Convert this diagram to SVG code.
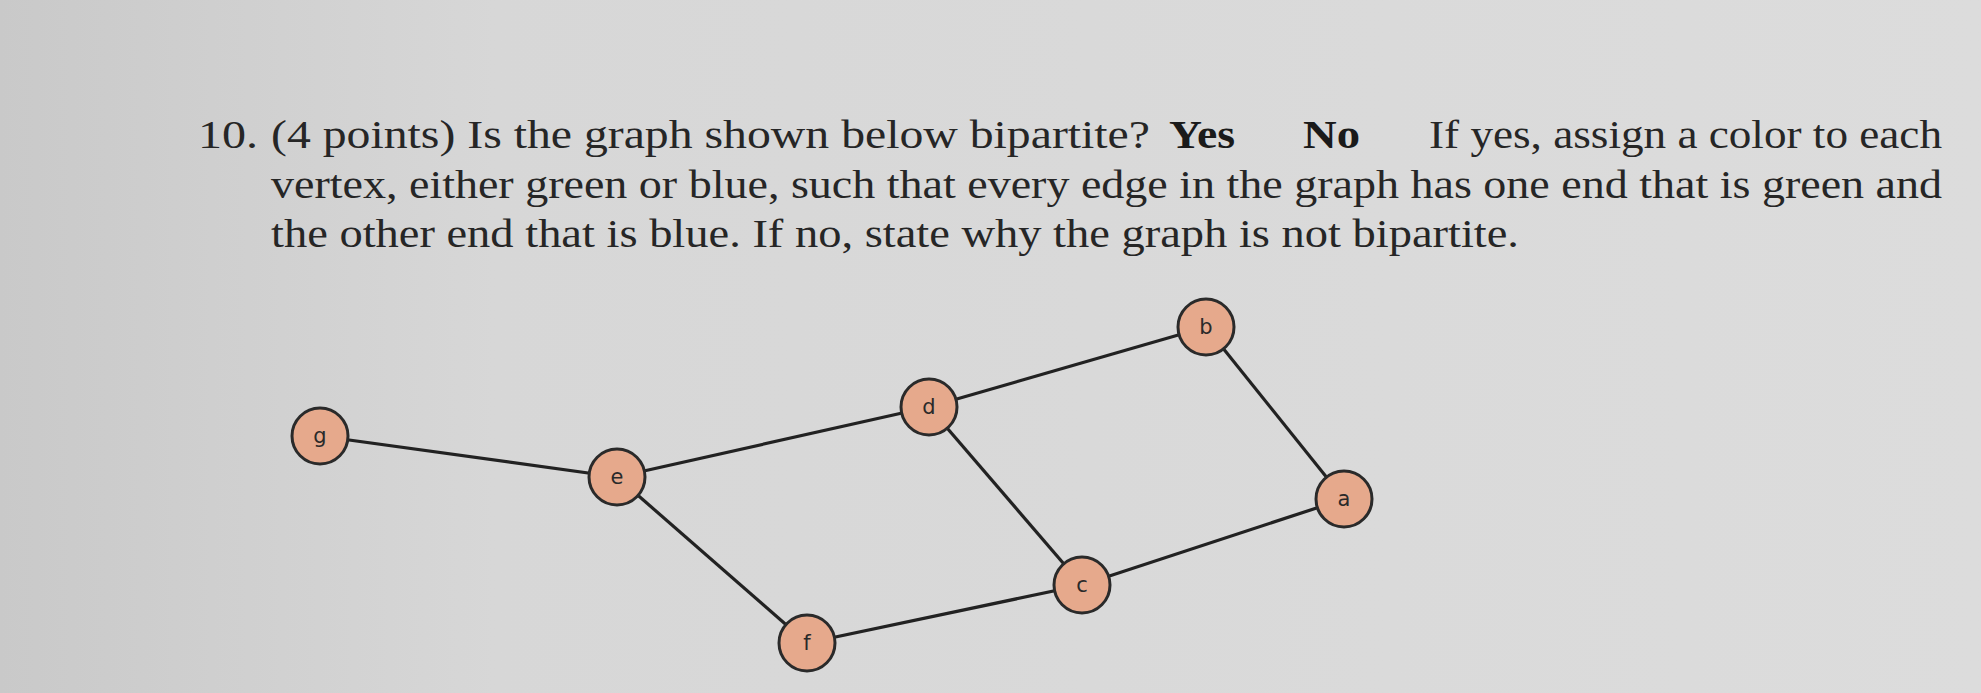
<svg xmlns="http://www.w3.org/2000/svg" width="1981" height="693" viewBox="0 0 1981 693">
<defs>
<linearGradient id="bg" x1="0" y1="0" x2="1" y2="0">
<stop offset="0" stop-color="#c9c9c9"/>
<stop offset="0.25" stop-color="#d7d7d7"/>
<stop offset="1" stop-color="#dcdcdc"/>
</linearGradient>
<style>
.t{font-family:"Liberation Serif","DejaVu Serif",serif;font-size:40px;fill:#262626}
.b{font-weight:bold;fill:#1a1a1a}
.e{stroke:#222;stroke-width:3.2;fill:none}
.n circle{fill:#e6a98c;stroke:#2a2a2a;stroke-width:3}
.n text{font-family:"DejaVu Sans","Liberation Sans",sans-serif;font-size:21px;fill:#2a2a2a;text-anchor:middle;dominant-baseline:central}
</style>
</defs>
<rect width="1981" height="693" fill="url(#bg)"/>
<g id="question">
<text class="t" x="198" y="148" textLength="60" lengthAdjust="spacingAndGlyphs">10.</text>
<text class="t" x="271" y="148" textLength="879" lengthAdjust="spacingAndGlyphs">(4 points) Is the graph shown below bipartite?</text>
<text class="t b" x="1169" y="148" textLength="66" lengthAdjust="spacingAndGlyphs">Yes</text>
<text class="t b" x="1303" y="148" textLength="57" lengthAdjust="spacingAndGlyphs">No</text>
<text class="t" x="1429" y="148" textLength="513" lengthAdjust="spacingAndGlyphs">If yes, assign a color to each</text>
<text class="t" x="271" y="198" textLength="1671" lengthAdjust="spacingAndGlyphs">vertex, either green or blue, such that every edge in the graph has one end that is green and</text>
<text class="t" x="271" y="247" textLength="1248" lengthAdjust="spacingAndGlyphs">the other end that is blue. If no, state why the graph is not bipartite.</text>
</g>
<g id="edges">
<line class="e" x1="320" y1="436" x2="617" y2="477"/>
<line class="e" x1="617" y1="477" x2="929" y2="407"/>
<line class="e" x1="929" y1="407" x2="1206" y2="327"/>
<line class="e" x1="1206" y1="327" x2="1344" y2="499"/>
<line class="e" x1="1344" y1="499" x2="1082" y2="585"/>
<line class="e" x1="1082" y1="585" x2="929" y2="407"/>
<line class="e" x1="1082" y1="585" x2="807" y2="643"/>
<line class="e" x1="807" y1="643" x2="617" y2="477"/>
</g>
<g id="node-g" class="n"><circle cx="320" cy="436" r="28"/><text x="320" y="436">g</text></g>
<g id="node-e" class="n"><circle cx="617" cy="477" r="28"/><text x="617" y="477">e</text></g>
<g id="node-d" class="n"><circle cx="929" cy="407" r="28"/><text x="929" y="407">d</text></g>
<g id="node-b" class="n"><circle cx="1206" cy="327" r="28"/><text x="1206" y="327">b</text></g>
<g id="node-a" class="n"><circle cx="1344" cy="499" r="28"/><text x="1344" y="499">a</text></g>
<g id="node-c" class="n"><circle cx="1082" cy="585" r="28"/><text x="1082" y="585">c</text></g>
<g id="node-f" class="n"><circle cx="807" cy="643" r="28"/><text x="807" y="643">f</text></g>
</svg>
